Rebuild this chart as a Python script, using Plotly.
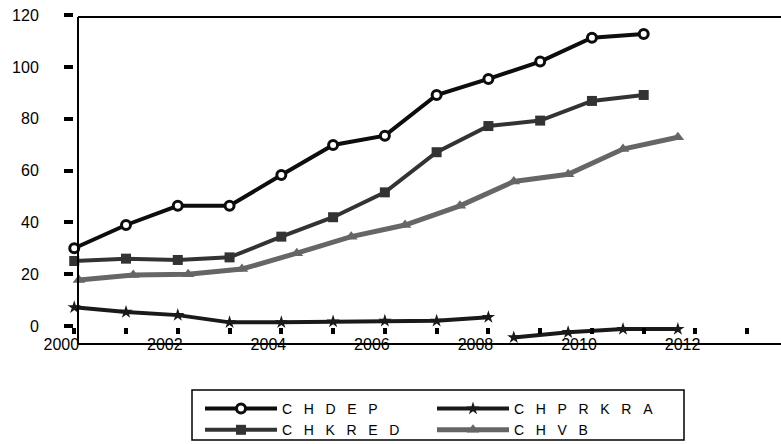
import plotly.graph_objects as go

# ---------------- data ----------------
main_x = [2000.25, 2001.25, 2002.25, 2003.25, 2004.25, 2005.25,
          2006.25, 2007.25, 2008.25, 2009.25, 2010.25, 2011.25]
chdep = [30.0, 39.0, 46.4, 46.4, 58.3, 69.9, 73.5, 89.2, 95.4, 102.1, 111.3, 112.7]
chkred = [25.1, 26.0, 25.5, 26.5, 34.5, 42.0, 51.6, 67.1, 77.2, 79.3, 86.9, 89.2]

chvb_x = [2000.34, 2001.39, 2002.45, 2003.49, 2004.55, 2005.60,
          2006.64, 2007.70, 2008.74, 2009.79, 2010.85, 2011.91]
chvb = [17.8, 19.7, 20.0, 22.0, 28.1, 34.5, 39.0, 46.4, 55.8, 58.6, 68.3, 72.9]

chprkra_x = [2000.25, 2001.25, 2002.25, 2003.25, 2004.25, 2005.25, 2006.25,
             2007.25, 2008.25, 2008.5, 2008.74, 2009.79, 2010.85, 2011.91]
chprkra = [7.2, 5.4, 4.2, 1.4, 1.4, 1.7, 2.0, 2.0, 3.4, None, -4.4, -2.4, -1.2, -1.2]

x_tick_vals = [2000, 2002, 2004, 2006, 2008, 2010, 2012]
x_tick_text = ["2000", "2002", "2004", "2006", "2008", "2010", "2012"]
x_minor_vals = [2000.25, 2001.25, 2002.25, 2003.25, 2004.25, 2005.25, 2006.25,
                2007.25, 2008.25, 2009.25, 2010.25, 2011.25, 2012.25, 2013.25]
y_tick_vals = [0, 20, 40, 60, 80, 100, 120]

SP = "\u00a0\u00a0\u00a0"
names = {
    "CHDEP": SP.join("CHDEP"),
    "CHPRKRA": SP.join("CHPRKRA"),
    "CHKRED": SP.join("CHKRED"),
    "CHVB": SP.join("CHVB"),
}

# ---------------- layout geometry (pixels) ----------------
WIDTH, HEIGHT = 781, 444
L, R = 40, 0
T, B = 12, 347
W = WIDTH - L - R
H = B - T
PX_PER_YEAR = 51.77
X_2000_PX = 61.3
PX_PER_UNIT = 2.59
Y0_PX = 326

x_range = [2000 + (L - X_2000_PX) / PX_PER_YEAR, 2000 + (WIDTH - R - X_2000_PX) / PX_PER_YEAR]
y_range = [(Y0_PX - B) / PX_PER_UNIT, (Y0_PX - T) / PX_PER_UNIT]


def px_x(px):
    return (px - L) / W


def px_y(py):
    return (B - py) / H


FONT = "Liberation Sans, Arial, sans-serif"

fig = go.Figure()
fig.add_trace(go.Scatter(
    x=main_x, y=chdep, name=names["CHDEP"], mode="lines+markers",
    line=dict(color="#0d0d0d", width=4),
    marker=dict(symbol="circle", size=9, color="white",
                line=dict(color="#0d0d0d", width=3)),
    legend="legend",
))
fig.add_trace(go.Scatter(
    x=main_x, y=chkred, name=names["CHKRED"], mode="lines+markers",
    line=dict(color="#333333", width=4),
    marker=dict(symbol="square", size=10, color="#333333"),
    legend="legend",
))
fig.add_trace(go.Scatter(
    x=chprkra_x, y=chprkra, name=names["CHPRKRA"], mode="lines+markers",
    line=dict(color="#1a1a1a", width=4),
    marker=dict(symbol="star", size=10, color="#1a1a1a"),
    connectgaps=False,
    legend="legend2",
))
fig.add_trace(go.Scatter(
    x=chvb_x, y=chvb, name=names["CHVB"], mode="lines+markers",
    line=dict(color="#666666", width=5),
    marker=dict(symbol="triangle-up", size=11, color="#666666"),
    legend="legend2",
))

# frame lines: left axis line at x=78px, top at 17px, bottom at 344px
line_style = dict(color="black", width=2)
shapes = [
    dict(type="line", xref="paper", yref="paper", x0=px_x(78), x1=px_x(78),
         y0=px_y(344), y1=px_y(17), line=line_style),
    dict(type="line", xref="paper", yref="paper", x0=px_x(78), x1=1.0,
         y0=px_y(17), y1=px_y(17), line=line_style),
    dict(type="line", xref="paper", yref="paper", x0=px_x(78), x1=1.0,
         y0=px_y(344), y1=px_y(344), line=line_style),
    dict(type="rect", xref="paper", yref="paper", x0=px_x(192), x1=px_x(684),
         y0=px_y(440), y1=px_y(390), line=dict(color="black", width=1.5)),
]

legend_common = dict(
    orientation="v", xanchor="left", yanchor="top",
    font=dict(family=FONT, size=14, color="black"),
    bgcolor="rgba(0,0,0,0)", borderwidth=0, itemwidth=72,
    traceorder="normal",
)

fig.update_layout(
    width=WIDTH, height=HEIGHT,
    margin=dict(l=L, r=R, t=T, b=HEIGHT - B, autoexpand=False),
    paper_bgcolor="white", plot_bgcolor="white",
    font=dict(family=FONT, size=16, color="black"),
    showlegend=True,
    shapes=shapes,
    legend=dict(x=px_x(200), y=px_y(393), **legend_common),
    legend2=dict(x=px_x(432), y=px_y(393), **legend_common),
    xaxis=dict(
        range=x_range, domain=[0, 1], anchor="free", position=px_y(327),
        showline=False, showgrid=False, zeroline=False,
        tickmode="array", tickvals=x_tick_vals, ticktext=x_tick_text,
        ticks="", tickfont=dict(family=FONT, size=16, color="black"),
        ticklabelstandoff=6,
        minor=dict(tickmode="array", tickvals=x_minor_vals, ticks="outside",
                   ticklen=6, tickwidth=4, tickcolor="black", showgrid=False),
    ),
    yaxis=dict(
        range=y_range, domain=[0, 1], anchor="free", position=px_x(73),
        showline=False, showgrid=False, zeroline=False,
        tickmode="array", tickvals=y_tick_vals,
        ticks="outside", ticklen=9, tickwidth=4, tickcolor="black",
        tickfont=dict(family=FONT, size=16, color="black"),
        ticklabelstandoff=22,
    ),
)

fig.write_html(
    "out.html",
    config={"displayModeBar": False},
    post_script="document.body.style.margin='0';document.body.style.overflow='hidden';",
)
